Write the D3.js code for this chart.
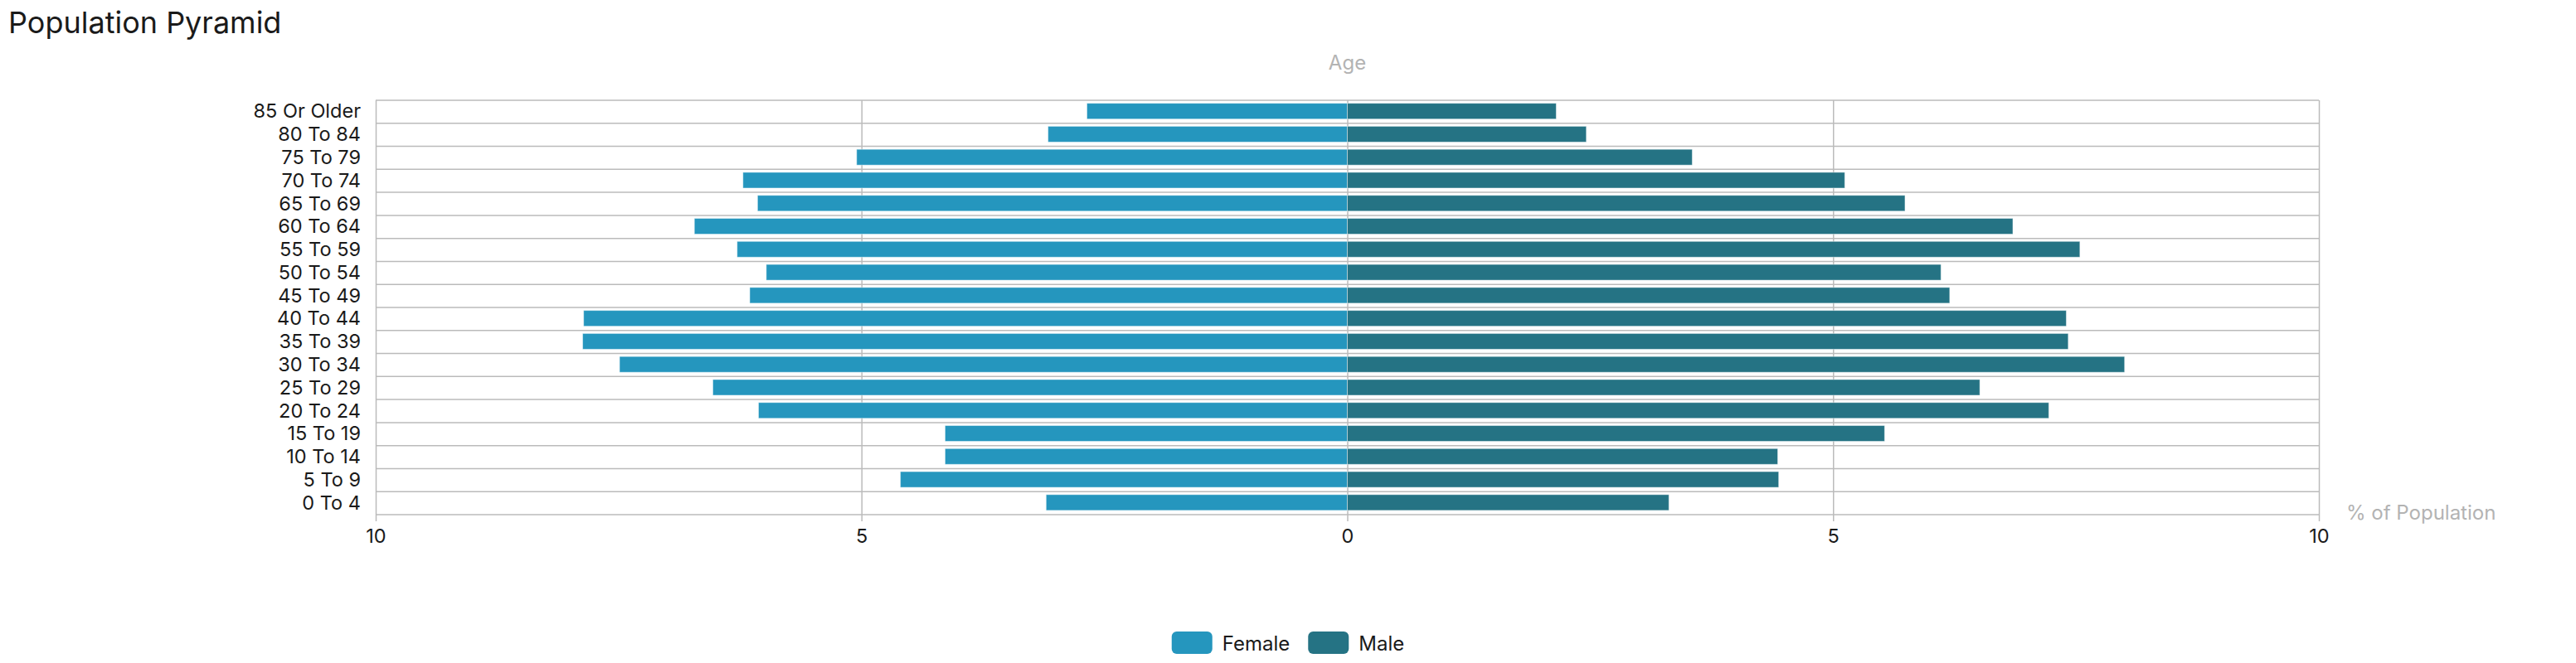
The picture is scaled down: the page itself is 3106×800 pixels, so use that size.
<!DOCTYPE html>
<html>
<head>
<meta charset="utf-8">
<script src="https://d3js.org/d3.v7.min.js"></script>
<style>
    body { margin: 0; background: #fff; }
    svg { display: block; font-family: "Inter", "Noto Sans", sans-serif; }
</style>
</head>
<body>
<svg id="svg1" width="3106" height="800"></svg>
<script>
var ageGroups = ["85 Or Older", "80 To 84", "75 To 79", "70 To 74", "65 To 69", "60 To 64",
    "55 To 59", "50 To 54", "45 To 49", "40 To 44", "35 To 39", "30 To 34",
    "25 To 29", "20 To 24", "15 To 19", "10 To 14", "5 To 9", "0 To 4"];

var female = [2.68, 3.08, 5.05, 6.22, 6.07, 6.72, 6.28, 5.98, 6.15, 7.86, 7.87, 7.49,
    6.53, 6.06, 4.14, 4.14, 4.60, 3.10];

var male = [2.15, 2.46, 3.55, 5.12, 5.74, 6.85, 7.54, 6.11, 6.20, 7.40, 7.42, 8.00,
    6.51, 7.22, 5.53, 4.43, 4.44, 3.31];

var xTicks = [-10, -5, 0, 5, 10];
var seriesNames = ["Female", "Male"];
var colors = ["#2596be", "#257384"];

function draw() {
    var svg = d3.select("#svg1"),
        margin = { top: 121, right: 310, bottom: 179, left: 453 },
        width = +svg.attr("width") - margin.left - margin.right,
        height = +svg.attr("height") - margin.top - margin.bottom,
        g = svg.append("g").attr("transform", "translate(" + margin.left + "," + margin.top + ")");

    var x = d3.scaleLinear()
        .domain([-10, 10])
        .range([0, width]);

    var y = d3.scaleBand()
        .domain(ageGroups)
        .range([0, height]);

    var rows = ageGroups.map(function (d, i) {
        return { age: d, female: female[i], male: male[i] };
    });

    // horizontal grid at band edges
    g.selectAll(".hgrid")
        .data(ageGroups.concat(["__end"]))
        .enter().append("line")
        .attr("class", "hgrid")
        .attr("x1", 0)
        .attr("x2", width)
        .attr("y1", function (d) { return d === "__end" ? height : y(d); })
        .attr("y2", function (d) { return d === "__end" ? height : y(d); })
        .attr("stroke", "#bbbbbb")
        .attr("stroke-width", 1.5);

    // x axis with vertical grid
    var xAxis = g.append("g")
        .attr("transform", "translate(0," + (height + 8) + ")")
        .call(d3.axisBottom(x)
            .tickValues(xTicks)
            .tickSize(-(height + 8))
            .tickPadding(9)
            .tickFormat(function (d) { return Math.abs(d); }));

    xAxis.select(".domain").remove();
    xAxis.selectAll(".tick line")
        .attr("stroke", "#bbbbbb")
        .attr("stroke-width", 1.5);
    xAxis.selectAll(".tick text")
        .attr("fill", "#1a1a1a")
        .style("font-size", "23.5px")
        .style("font-family", "Inter, sans-serif");

    // y axis labels
    var yAxis = g.append("g")
        .call(d3.axisLeft(y).tickSize(0).tickPadding(18));

    yAxis.select(".domain").remove();
    yAxis.selectAll(".tick text")
        .attr("fill", "#1a1a1a")
        .style("font-size", "23.5px")
        .style("font-family", "Inter, sans-serif");

    var barTop = y.bandwidth() * 0.13,
        barH = y.bandwidth() * 0.685;

    g.selectAll(".bar-female")
        .data(rows)
        .enter().append("rect")
        .attr("class", "bar-female")
        .attr("x", function (d) { return x(-d.female); })
        .attr("y", function (d) { return y(d.age) + barTop; })
        .attr("width", function (d) { return x(0) - x(-d.female); })
        .attr("height", barH)
        .attr("fill", colors[0])
        .attr("stroke", "#ffffff")
        .attr("stroke-opacity", 0.45)
        .attr("stroke-width", 1);

    g.selectAll(".bar-male")
        .data(rows)
        .enter().append("rect")
        .attr("class", "bar-male")
        .attr("x", x(0))
        .attr("y", function (d) { return y(d.age) + barTop; })
        .attr("width", function (d) { return x(d.male) - x(0); })
        .attr("height", barH)
        .attr("fill", colors[1])
        .attr("stroke", "#ffffff")
        .attr("stroke-opacity", 0.45)
        .attr("stroke-width", 1);

    // title
    svg.append("text")
        .attr("x", 10)
        .attr("y", 40)
        .style("font-size", "36px")
        .style("font-family", "Inter, sans-serif")
        .attr("fill", "#1a1a1a")
        .text("Population Pyramid");

    // axis titles
    svg.append("text")
        .attr("x", margin.left + x(0))
        .attr("y", 84)
        .attr("text-anchor", "middle")
        .style("font-size", "24px")
        .attr("fill", "#b3b3b3")
        .text("Age");

    svg.append("text")
        .attr("x", margin.left + width + 33)
        .attr("y", margin.top + height + 6)
        .style("font-size", "24px")
        .attr("fill", "#b3b3b3")
        .text("% of Population");

    // legend, centred on the page
    var legend = svg.append("g");
    var item = legend.selectAll(".legend-item")
        .data(seriesNames)
        .enter().append("g")
        .attr("class", "legend-item");

    item.append("rect")
        .attr("width", 49)
        .attr("height", 27)
        .attr("rx", 6)
        .attr("y", -14)
        .attr("fill", function (d, i) { return colors[i]; });

    item.append("text")
        .attr("x", 61)
        .attr("y", 8.5)
        .style("font-size", "24px")
        .attr("fill", "#1a1a1a")
        .text(function (d) { return d; });

    var offset = 0;
    item.each(function () {
        d3.select(this).attr("transform", "translate(" + offset + ",0)");
        offset += this.getBBox().width + 22;
    });
    offset -= 22;
    legend.attr("transform", "translate(" + ((+svg.attr("width") - offset) / 2) + ",776)");
}

draw();
</script>
</body>
</html>
